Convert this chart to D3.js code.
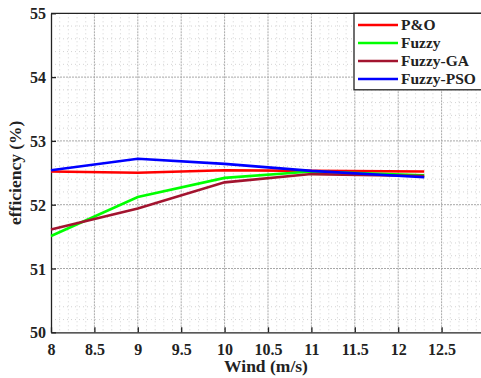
<!DOCTYPE html>
<html><head><meta charset="utf-8">
<script src="https://cdn.jsdelivr.net/npm/d3@7"></script>
<style>body{margin:0;background:#fff;overflow:hidden}svg{display:block}</style>
</head><body><svg id="c" width="481" height="378"></svg>
<script>
const wind = [8, 9, 10, 11, 12.3];
const seriesNames = ["P&O", "Fuzzy", "Fuzzy-GA", "Fuzzy-PSO"];
const seriesColors = ["#ff0000", "#00ff00", "#a2142f", "#0000ff"];
const pando = [52.52, 52.50, 52.54, 52.53, 52.52];
const fuzzy = [51.51, 52.12, 52.42, 52.52, 52.46];
const fuzzyGA = [51.61, 51.94, 52.35, 52.48, 52.45];
const fuzzyPSO = [52.54, 52.72, 52.64, 52.53, 52.43];
const xTicks = [8, 8.5, 9, 9.5, 10, 10.5, 11, 11.5, 12, 12.5];
const yTicks = [50, 51, 52, 53, 54, 55];
const allSeries = [pando, fuzzy, fuzzyGA, fuzzyPSO];

const svg = d3.select("#c");
const L = 51, R = 485, T = 13.3, B = 332.3;
const x = d3.scaleLinear().domain([8, 13]).range([L, R]);
const y = d3.scaleLinear().domain([50, 55]).range([B, T]);
const font = "'Liberation Serif', 'Times New Roman', serif";

// minor grid
const g = svg.append("g");
d3.range(81, 130).map(v => v / 10).forEach(v => {
  if (Math.abs(v * 2 - Math.round(v * 2)) < 1e-6) return;
  g.append("line").attr("x1", x(v)).attr("x2", x(v)).attr("y1", T).attr("y2", B)
    .attr("stroke", "#c8c8c8").attr("stroke-width", 0.8).attr("stroke-dasharray", "1,3");
});
d3.range(251, 275).map(v => v / 5).forEach(v => {
  if (Math.abs(v - Math.round(v)) < 1e-6) return;
  g.append("line").attr("x1", L).attr("x2", R).attr("y1", y(v)).attr("y2", y(v))
    .attr("stroke", "#c8c8c8").attr("stroke-width", 0.8).attr("stroke-dasharray", "1,3");
});
// major grid
xTicks.slice(1).forEach(v => {
  g.append("line").attr("x1", x(v)).attr("x2", x(v)).attr("y1", T).attr("y2", B)
    .attr("stroke", "#a8a8a8").attr("stroke-width", 1).attr("stroke-dasharray", "2,1");
});
yTicks.slice(1, -1).forEach(v => {
  g.append("line").attr("x1", L).attr("x2", R).attr("y1", y(v)).attr("y2", y(v))
    .attr("stroke", "#a8a8a8").attr("stroke-width", 1).attr("stroke-dasharray", "2,1");
});

// axes
const xAxis = d3.axisBottom(x).tickValues(xTicks).tickSizeInner(-5).tickSizeOuter(0).tickPadding(11)
  .tickFormat(d => String(d));
const gx = svg.append("g").attr("transform", `translate(0,${B})`).call(xAxis);
const yAxis = d3.axisLeft(y).tickValues(yTicks).tickSizeInner(-5).tickSizeOuter(0).tickPadding(5)
  .tickFormat(d => String(d));
const gy = svg.append("g").attr("transform", `translate(${L},0)`).call(yAxis);
[gx, gy].forEach(a => {
  a.select(".domain").attr("stroke", "#222").attr("stroke-width", 1.3);
  a.selectAll(".tick line").attr("stroke", "#222").attr("stroke-width", 1.3);
  a.selectAll("text").attr("font-family", font).attr("font-weight", "bold")
    .attr("font-size", 16).attr("fill", "#222");
});
gy.selectAll(".tick text").attr("dy", "0.35em");
// top and right frame
svg.append("line").attr("x1", L).attr("x2", R).attr("y1", T).attr("y2", T).attr("stroke", "#222").attr("stroke-width", 1.3);
svg.append("line").attr("x1", R).attr("x2", R).attr("y1", T).attr("y2", B).attr("stroke", "#222").attr("stroke-width", 1.3);

// lines
const line = d3.line().x((d, i) => x(wind[i])).y(d => y(d));
allSeries.forEach((s, k) => {
  svg.append("path").datum(s).attr("d", line).attr("fill", "none")
    .attr("stroke", seriesColors[k]).attr("stroke-width", 2.6);
});

// labels
svg.append("text").attr("x", 266).attr("y", 372).attr("text-anchor", "middle")
  .attr("font-family", font).attr("font-weight", "bold").attr("font-size", 17.5).attr("fill", "#222")
  .text("Wind (m/s)");
svg.append("text").attr("transform", `translate(21,${(T + B) / 2}) rotate(-90)`).attr("text-anchor", "middle")
  .attr("font-family", font).attr("font-weight", "bold").attr("font-size", 17.5).attr("fill", "#222")
  .text("efficiency (%)");

// legend
const lg = svg.append("g");
lg.append("rect").attr("x", 354).attr("y", 13.3).attr("width", 135).attr("height", 76.5)
  .attr("fill", "#fff").attr("stroke", "#222").attr("stroke-width", 1.3);
seriesNames.forEach((n, k) => {
  const yy = 25 + k * 18;
  lg.append("line").attr("x1", 358).attr("x2", 398).attr("y1", yy).attr("y2", yy)
    .attr("stroke", seriesColors[k]).attr("stroke-width", 2.6);
  lg.append("text").attr("x", 401).attr("y", yy).attr("dy", "0.35em")
    .attr("font-family", font).attr("font-weight", "bold").attr("font-size", 15.5).attr("fill", "#222")
    .text(n);
});
</script></body></html>
